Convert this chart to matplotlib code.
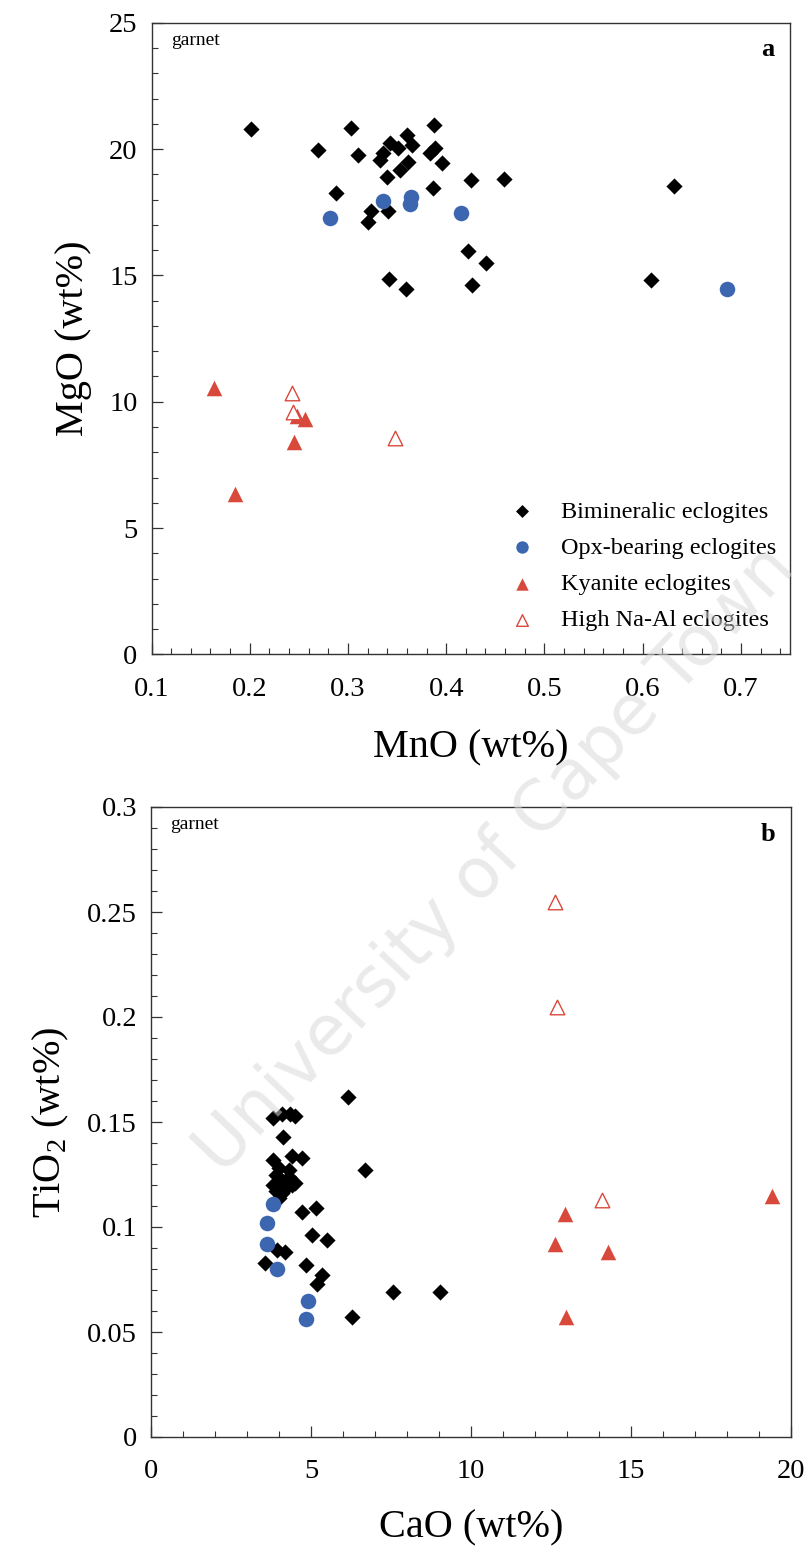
import matplotlib
matplotlib.use("Agg")
import matplotlib.pyplot as plt
from matplotlib.ticker import MultipleLocator, FormatStrFormatter, FuncFormatter

# ---------------- data: panel a (MnO vs MgO) ----------------
bim_mno = [0.201, 0.303, 0.270, 0.310, 0.288, 0.388, 0.336, 0.343, 0.351, 0.360,
           0.365, 0.361, 0.353, 0.340, 0.333, 0.384, 0.389, 0.396, 0.425, 0.459,
           0.387, 0.323, 0.320, 0.341, 0.422, 0.441, 0.426, 0.342, 0.359, 0.632,
           0.609]
bim_mgo = [20.80, 20.83, 19.96, 19.76, 18.26, 20.95, 19.84, 20.24, 20.04, 20.56,
           20.16, 19.49, 19.17, 18.90, 19.57, 19.84, 20.04, 19.45, 18.78, 18.81,
           18.46, 17.55, 17.11, 17.55, 15.96, 15.49, 14.62, 14.86, 14.46, 18.54,
           14.82]
opx_mno = [0.282, 0.336, 0.364, 0.363, 0.415, 0.686]
opx_mgo = [17.27, 17.94, 18.10, 17.82, 17.47, 14.46]
ky_mno = [0.164, 0.245, 0.248, 0.256, 0.185]
ky_mgo = [10.54, 8.40, 9.44, 9.32, 6.35]
hna_mno = [0.243, 0.244, 0.348]
hna_mgo = [10.35, 9.59, 8.57]

# ---------------- data: panel b (CaO vs TiO2) ----------------
bim_cao = [6.16, 3.81, 4.09, 4.34, 4.50, 4.13, 3.81, 4.41, 4.72, 6.69,
           3.80, 3.90, 4.00, 4.10, 4.20, 4.30, 4.40, 4.10, 3.90, 4.30, 4.50, 4.00,
           4.72, 5.16, 5.03, 5.50, 3.94, 4.19, 3.56, 4.84, 5.34, 5.19, 7.56, 6.28,
           9.03]
bim_tio2 = [0.162, 0.152, 0.154, 0.154, 0.153, 0.143, 0.132, 0.134, 0.133, 0.127,
            0.120, 0.125, 0.128, 0.122, 0.118, 0.124, 0.120, 0.116, 0.117, 0.127, 0.121, 0.114,
            0.107, 0.109, 0.096, 0.094, 0.089, 0.088, 0.083, 0.082, 0.077, 0.073, 0.069, 0.057,
            0.069]
opx_cao = [3.81, 3.63, 3.63, 3.94, 4.91, 4.84]
opx_tio2 = [0.111, 0.102, 0.092, 0.080, 0.065, 0.056]
ky_cao = [12.94, 12.63, 14.28, 12.97, 19.41]
ky_tio2 = [0.106, 0.092, 0.088, 0.057, 0.115]
hna_cao = [12.63, 12.69, 14.09]
hna_tio2 = [0.255, 0.205, 0.113]

labels = ["Bimineralic eclogites", "Opx-bearing eclogites",
          "Kyanite eclogites", "High Na-Al eclogites"]

# ---------------- style ----------------
plt.rcParams['font.family'] = ['Liberation Serif', 'DejaVu Serif']
plt.rcParams['mathtext.fontset'] = 'custom'
plt.rcParams['mathtext.rm'] = 'Liberation Serif'

BLUE = '#3d66b1'
RED = '#d8493b'

fig = plt.figure(figsize=(8.11, 15.52), dpi=100)
W, H = 811.0, 1552.0
ax1 = fig.add_axes([151.5 / W, 1 - 654.4 / H, (790 - 151.5) / W, (654.4 - 22.7) / H])
ax2 = fig.add_axes([151 / W, 1 - 1437 / H, (791 - 151) / W, (1437 - 807) / H])


def draw(ax, bx, by, ox, oy, kx, ky, hx, hy):
    h1 = ax.scatter(bx, by, marker='D', s=68, color='black', linewidths=0, zorder=3)
    h2 = ax.scatter(ox, oy, marker='o', s=125, color=BLUE, linewidths=0, zorder=3)
    h3 = ax.scatter(kx, ky, marker='^', s=125, color=RED, linewidths=0, zorder=3)
    h4 = ax.scatter(hx, hy, marker='^', s=110, facecolor='white', edgecolor=RED,
                    linewidths=1.0, zorder=3)
    return [h1, h2, h3, h4]


def style(ax):
    for sp in ax.spines.values():
        sp.set_color('#333333')
        sp.set_linewidth(1.0)
    ax.tick_params(which='both', direction='in', top=False, right=False,
                   colors='#333333', labelcolor='black', labelsize=20.5)
    ax.tick_params(which='major', length=8, width=0.9)
    ax.tick_params(which='minor', length=4, width=0.8)
    ax.tick_params(axis='x', pad=16)
    ax.tick_params(axis='y', pad=10)


handles = draw(ax1, bim_mno, bim_mgo, opx_mno, opx_mgo, ky_mno, ky_mgo, hna_mno, hna_mgo)
ax1.set_xlim(0.1, 0.75)
ax1.set_ylim(0, 25)
ax1.xaxis.set_major_locator(MultipleLocator(0.1))
ax1.xaxis.set_minor_locator(MultipleLocator(0.02))
ax1.yaxis.set_major_locator(MultipleLocator(5))
ax1.yaxis.set_minor_locator(MultipleLocator(1))
ax1.xaxis.set_major_formatter(FormatStrFormatter('%.1f'))
ax1.yaxis.set_major_formatter(FormatStrFormatter('%d'))
style(ax1)
ax1.set_xlabel('MnO (wt%)', fontsize=29, labelpad=20)
ax1.set_ylabel('MgO (wt%)', fontsize=29, labelpad=12)
ax1.text(0.03, 0.985, 'garnet', transform=ax1.transAxes, fontsize=14,
         ha='left', va='top')
ax1.text(0.975, 0.975, 'a', transform=ax1.transAxes, fontsize=19,
         ha='right', va='top', fontweight='bold')
leg = ax1.legend(handles, labels, loc='lower right', bbox_to_anchor=(1.005, 0.01),
                 frameon=False, fontsize=17.5, labelspacing=0.58, handletextpad=0.6,
                 markerscale=0.8, borderaxespad=0.3)

draw(ax2, bim_cao, bim_tio2, opx_cao, opx_tio2, ky_cao, ky_tio2, hna_cao, hna_tio2)
ax2.set_xlim(0, 20)
ax2.set_ylim(0, 0.3)
ax2.xaxis.set_major_locator(MultipleLocator(5))
ax2.xaxis.set_minor_locator(MultipleLocator(1))
ax2.yaxis.set_major_locator(MultipleLocator(0.05))
ax2.yaxis.set_minor_locator(MultipleLocator(0.01))
ax2.yaxis.set_major_formatter(FuncFormatter(lambda v, p: ('%.2f' % v).rstrip('0').rstrip('.') if v > 1e-9 else '0'))
ax2.xaxis.set_major_formatter(FormatStrFormatter('%d'))
style(ax2)
ax2.set_xlabel('CaO (wt%)', fontsize=29, labelpad=18)
ax2.set_ylabel(r'TiO$_\mathregular{2}$ (wt%)', fontsize=29, labelpad=12)
ax2.text(0.03, 0.985, 'garnet', transform=ax2.transAxes, fontsize=14,
         ha='left', va='top')
ax2.text(0.975, 0.975, 'b', transform=ax2.transAxes, fontsize=19,
         ha='right', va='top', fontweight='bold')

# watermark
fig.text(495 / W, 1 - 860 / H, 'University of Cape Town', fontsize=50,
         family='DejaVu Sans', color='#d9d9d9', alpha=0.55, rotation=46.5,
         ha='center', va='center', rotation_mode='anchor', zorder=10)

fig.savefig('out.png', dpi=100)
